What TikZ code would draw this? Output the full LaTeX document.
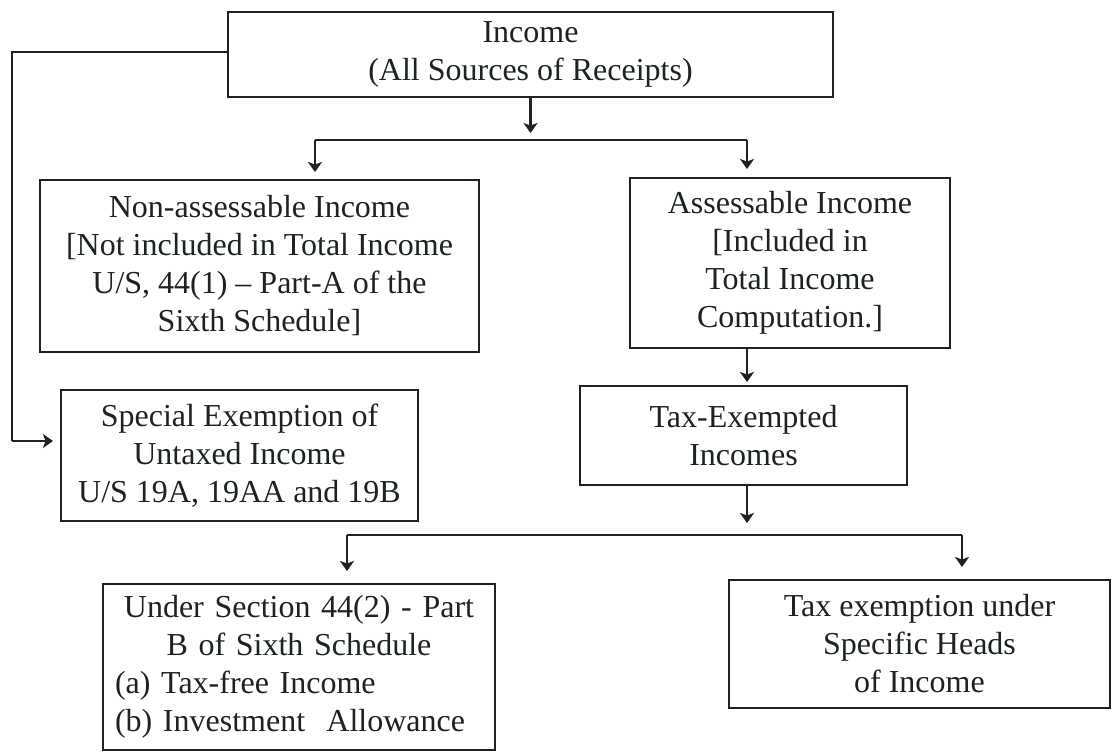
\documentclass[tikz,border=0pt]{standalone}
\usepackage{fontspec}
\setmainfont{Liberation Serif}
\usetikzlibrary{arrows.meta}
\definecolor{ink}{RGB}{28,36,32}
\begin{document}
\begin{tikzpicture}[x=1pt,y=-1pt,
  box/.style={draw=ink, line width=1.8pt, inner sep=0pt, outer sep=0pt, align=center, text=ink, font=\fontsize{32}{38}\selectfont},
  conn/.style={draw=ink, line width=2.2pt},
  arr/.style={draw=ink, line width=2.8pt, -{Stealth[width=14pt,length=10pt,inset=2.5pt]}}]
\fill[white] (0,0) rectangle (1114,753);
\useasboundingbox (0,0) rectangle (1114,753);

\node[box, minimum width=605pt, minimum height=85pt] (inc) at (530.5,54.5) {Income\\(All Sources of Receipts)};
\node[box, minimum width=439pt, minimum height=172pt] (nonA) at (259.5,266) {Non-assessable Income\\{[}Not included in Total Income\\U/S, 44(1) -- Part-A of the\\Sixth Schedule{]}};
\node[box, minimum width=320pt, minimum height=170pt] (ass) at (790,263) {Assessable Income\\{[}Included in\\Total Income\\Computation.{]}};
\node[box, minimum width=357pt, minimum height=131pt] (spec) at (239.5,455.5) {Special Exemption of\\Untaxed Income\\U/S 19A, 19AA and 19B};
\node[box, minimum width=327pt, minimum height=99pt] (tex) at (743.5,435.5) {Tax-Exempted\\Incomes};
\node[box, minimum width=392pt, minimum height=166pt, text width=368pt, align=left] (under) at (299,667) {\makebox[\linewidth][c]{Under Section 44(2) - Part}\\\makebox[\linewidth][c]{B of Sixth Schedule}\\(a) Tax-free Income\\(b) Investment\ \ Allowance};
\node[box, minimum width=381pt, minimum height=128pt] (spech) at (919.5,644) {Tax exemption under\\Specific Heads\\of Income};

% coordinates for branch lines
\coordinate (bL) at (315,140);
\coordinate (bR) at (747,140);
\coordinate (cL) at (347,535);
\coordinate (cR) at (962,535);
\coordinate (lc) at (12,52);
\coordinate (lc2) at (12,441);

% income to first branch
\draw[arr, shorten >=7pt] (inc.south) -- (inc.south |- bL);
\draw[conn] (bL) -- (bR);
\draw[arr, shorten >=8pt] (bL) -- (bL |- nonA.north);
\draw[arr, shorten >=9pt] (bR) -- (bR |- ass.north);

% assessable to tax-exempted
\draw[arr, shorten >=4pt] (bR |- ass.south) -- (bR |- tex.north);

% tax-exempted to second branch
\draw[arr, shorten >=12pt] (bR |- tex.south) -- (bR |- cL);
\draw[conn] (cL) -- (cR);
\draw[arr, shorten >=13pt] (cL) -- (cL |- under.north);
\draw[arr, shorten >=13pt] (cR) -- (cR |- spech.north);

% left connector
\draw[conn] (inc.west |- lc) -- (lc) -- (lc2);
\draw[arr, shorten >=8pt] (lc2) -- (lc2 -| spec.west);
\end{tikzpicture}
\end{document}
